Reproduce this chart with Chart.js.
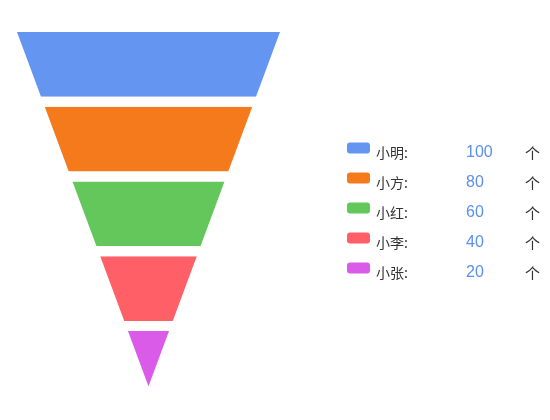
<!DOCTYPE html>
<html>
<head>
<meta charset="utf-8">
<script src="https://cdn.jsdelivr.net/npm/chart.js@4.4.1/dist/chart.umd.min.js"></script>
<style>
  html, body { margin: 0; padding: 0; background: #fff; }
  #c { display: block; }
</style>
</head>
<body>
<canvas id="c" width="550" height="420"></canvas>
<script>
const categories = ['小明', '小方', '小红', '小李', '小张'];
const values = [100, 80, 60, 40, 20];
const colors = ['#6495F0', '#F47A1B', '#63C75B', '#FF6067', '#DA5BE8'];
const unit = '个';

const maxVal = Math.max(...values);

const funnelPlugin = {
  id: 'funnel',
  beforeDatasetDraw(chart, args) {
    const ctx = chart.ctx;
    const els = chart.getDatasetMeta(args.index).data;
    const shapes = els.map((el, i) => {
      const top = el.y - el.height / 2;
      const bottom = el.y + el.height / 2;
      const l1 = Math.min(el.x, el.base), r1 = Math.max(el.x, el.base);
      let l2, r2;
      const nx = els[i + 1];
      if (nx) {
        l2 = Math.min(nx.x, nx.base); r2 = Math.max(nx.x, nx.base);
      } else {
        l2 = r2 = (l1 + r1) / 2;
      }
      return { top, bottom, l1, r1, l2, r2 };
    });
    ctx.save();
    const path = (s) => {
      ctx.beginPath();
      ctx.moveTo(s.l1, s.top);
      ctx.lineTo(s.r1, s.top);
      ctx.lineTo(s.r2, s.bottom);
      ctx.lineTo(s.l2, s.bottom);
      ctx.closePath();
    };
    shapes.forEach((s, i) => {
      path(s);
      ctx.fillStyle = colors[i];
      ctx.fill();
    });
    ctx.strokeStyle = '#ffffff';
    ctx.lineWidth = 10;
    ctx.lineJoin = 'miter';
    shapes.forEach((s) => {
      path(s);
      ctx.stroke();
    });
    ctx.restore();
    return false;
  },
  afterDraw(chart) {
    const ctx = chart.ctx;
    ctx.save();
    categories.forEach((name, i) => {
      const cy = 148 + 30 * i;
      ctx.fillStyle = colors[i];
      ctx.beginPath();
      ctx.roundRect(347, cy - 5.5, 23, 11, 3);
      ctx.fill();
      ctx.textBaseline = 'middle';
      ctx.textAlign = 'left';
      ctx.fillStyle = '#333333';
      ctx.font = '14px "Noto Sans CJK SC", sans-serif';
      ctx.fillText(name + ':', 376, cy + 5);
      ctx.fillStyle = '#5B8FF0';
      ctx.font = '16px "Liberation Sans", "Noto Sans CJK SC", sans-serif';
      ctx.fillText(String(values[i]), 466, cy + 4.5);
      ctx.fillStyle = '#333333';
      ctx.font = '15px "Noto Sans CJK SC", sans-serif';
      ctx.fillText(unit, 525, cy + 5);
    });
    ctx.restore();
  }
};

new Chart(document.getElementById('c'), {
  type: 'bar',
  data: {
    labels: categories,
    datasets: [{
      data: values.map(v => [-v / 2, v / 2]),
      backgroundColor: colors,
      barPercentage: 1,
      categoryPercentage: 1
    }]
  },
  options: {
    indexAxis: 'y',
    responsive: false,
    animation: false,
    layout: { padding: { left: 9.8, right: 262.8, top: 27, bottom: 19.25 } },
    scales: {
      x: { type: 'linear', min: -maxVal / 2, max: maxVal / 2, display: false },
      y: { type: 'category', display: false, offset: true }
    },
    plugins: {
      legend: { display: false },
      tooltip: { enabled: false }
    }
  },
  plugins: [funnelPlugin]
});
</script>
</body>
</html>
